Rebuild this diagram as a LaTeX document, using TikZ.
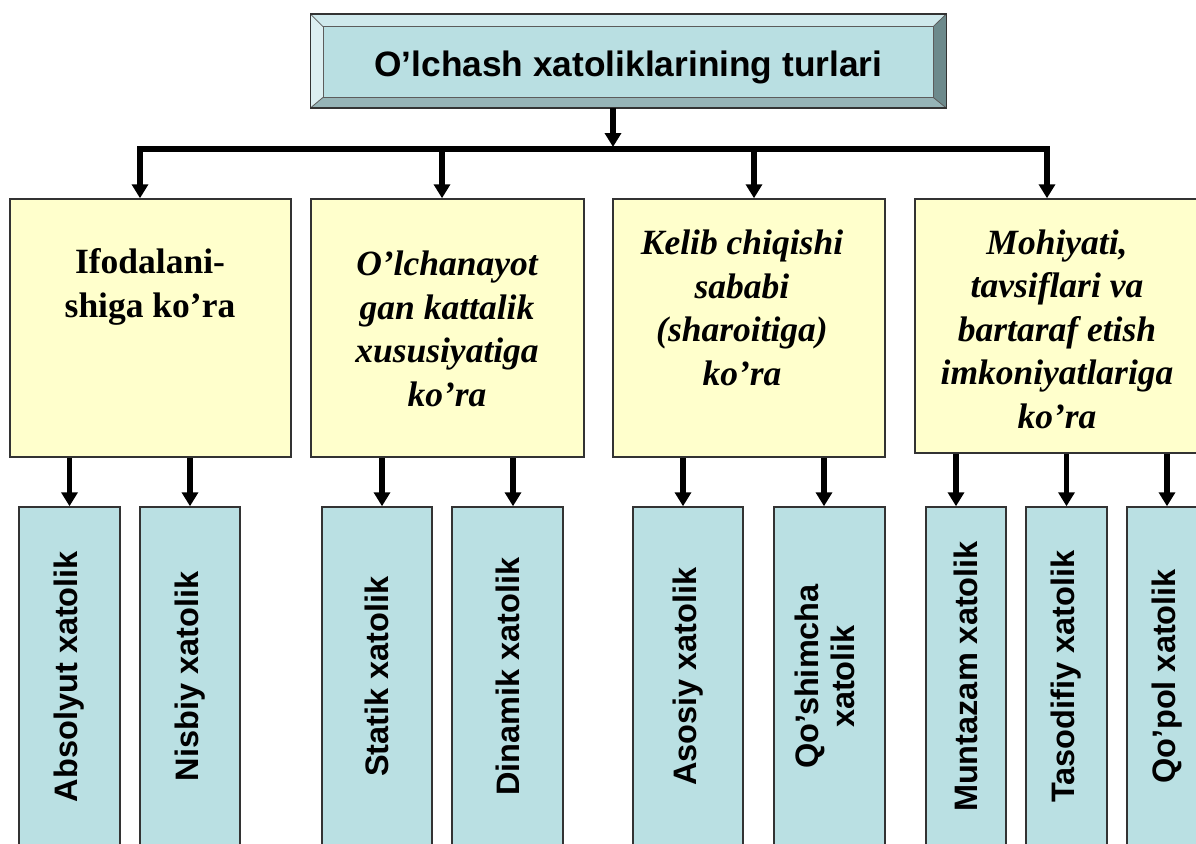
\documentclass[tikz,border=0pt]{standalone}
\usepackage{fontspec}
\usepackage{graphicx}
\setmainfont{Liberation Serif}
\setsansfont{Liberation Sans}
\usetikzlibrary{arrows.meta,calc}
\definecolor{edge}{HTML}{333333}
\definecolor{ylw}{HTML}{FFFFCC}
\definecolor{cyn}{HTML}{BAE0E3}
\definecolor{face}{HTML}{B9DFE2}
\definecolor{bvtop}{HTML}{CFE9EC}
\definecolor{bvleft}{HTML}{DCEFF1}
\definecolor{bvbot}{HTML}{96B4B7}
\definecolor{bvright}{HTML}{6D8A8C}
\newcommand{\tsize}{\fontsize{35.3}{40}\selectfont}
\newcommand{\ysize}{\fontsize{35.5}{43.5}\selectfont}
\newcommand{\bsize}{\fontsize{32.5}{36}\selectfont}
\newcommand{\vtext}[1]{\rotatebox{90}{#1}}

\begin{document}
\begin{tikzpicture}[
  x=1pt, y=-1pt,
  arr/.style={line width=5.5pt, -{Triangle[width=16pt,length=14pt]}},
  ybox/.style={draw=edge, line width=1.5pt, fill=ylw, inner sep=0pt},
  ytext/.style={font=\ysize\bfseries\itshape, align=center, text=black},
  bbox/.style={draw=edge, line width=1.5pt, fill=cyn, inner sep=0pt,
    minimum height=339, font=\bsize\sffamily\bfseries},
]
\useasboundingbox (0,0) rectangle (1196,843);

% title with bevel
\node[fill=face, minimum width=635.3, minimum height=93.4, inner sep=0pt,
  font=\tsize\sffamily\bfseries] (title) at (628.35,61)
  {\raisebox{-16pt}[0pt][0pt]{O’lchash xatoliklarining turlari}};
\fill[bvtop] (title.north west) -- (title.north east) -- ($(title.north east)+(-13,12.5)$)
  -- ($(title.north west)+(12.5,12.5)$) -- cycle;
\fill[bvleft] (title.north west) -- ($(title.north west)+(12.5,12.5)$)
  -- ($(title.south west)+(12.5,-10.5)$) -- (title.south west) -- cycle;
\fill[bvbot] (title.south west) -- ($(title.south west)+(12.5,-10.5)$)
  -- ($(title.south east)+(-13,-10.5)$) -- (title.south east) -- cycle;
\fill[bvright] (title.north east) -- ($(title.north east)+(-13,12.5)$)
  -- ($(title.south east)+(-13,-10.5)$) -- (title.south east) -- cycle;
\draw[edge!80, line width=0.8pt] ($(title.north west)+(12.5,12.5)$) rectangle ($(title.south east)+(-13,-10.5)$);
\draw[edge!80, line width=0.8pt] (title.north west) -- ++(12.5,12.5)
  (title.north east) -- ++(-13,12.5) (title.south west) -- ++(12.5,-10.5)
  (title.south east) -- ++(-13,-10.5);
\draw[edge, line width=1.2pt] (title.north west) rectangle (title.south east);

% yellow boxes
\node[ybox, minimum width=281, minimum height=258] (g1) at (150.5,328) {};
\node[ybox, minimum width=273, minimum height=258] (g2) at (447.5,328) {};
\node[ybox, minimum width=272, minimum height=258] (g3) at (749,328) {};
\node[ybox, minimum width=285, minimum height=254] (g4) at (1057.5,326) {};

\node[ytext, font=\ysize\bfseries] (l1) at (150,287) {Ifodalani-\\shiga ko’ra};
\node[ytext] (l2) at (447,329) {O’lchanayot\\gan kattalik\\xususiyatiga\\ko’ra};
\node[ytext] (l3) at (742,308) {Kelib chiqishi\\sababi\\(sharoitiga)\\ko’ra};
\node[ytext] (l4) at (1057,329) {Mohiyati,\\tavsiflari va\\bartaraf etish\\imkoniyatlariga\\ko’ra};

% bus
\coordinate (hub) at (613,147);
\coordinate (t1) at (140,149);
\coordinate (t2) at (442,149);
\coordinate (t3) at (754,149);
\coordinate (t4) at (1047,149);
\draw[arr] (title.south -| hub) -- (hub);
\draw[line width=5.5pt, line join=miter,
  {Triangle[width=16pt,length=14pt]}-{Triangle[width=16pt,length=14pt]}]
  (t1 |- g1.north) -- (t1) -- (t4) -- (t4 |- g4.north);
\draw[arr] (t2) -- (t2 |- g2.north);
\draw[arr] (t3) -- (t3 |- g3.north);

% blue boxes
\node[bbox, minimum width=101] (b1) at (69.5,676.5) {\vtext{Absolyut xatolik}};
\node[bbox, minimum width=100] (b2) at (190,676.5) {\vtext{Nisbiy xatolik}};
\node[bbox, minimum width=110] (b3) at (377,676.5) {\vtext{Statik xatolik}};
\node[bbox, minimum width=111] (b4) at (507.5,676.5) {\vtext{Dinamik xatolik}};
\node[bbox, minimum width=110] (b5) at (688,676.5) {\vtext{Asosiy xatolik}};
\node[bbox, minimum width=111] (b6) at (829.5,676.5) {\vtext{\begin{tabular}{@{}c@{}}Qo’shimcha\\xatolik\end{tabular}}};
\node[bbox, minimum width=80] (b7) at (966,676.5) {\vtext{Muntazam xatolik}};
\node[bbox, minimum width=81] (b8) at (1066.5,676.5) {\vtext{Tasodifiy xatolik}};
\node[bbox, minimum width=80] (b9) at (1167,676.5) {\vtext{Qo’pol xatolik}};

\foreach \g/\b/\d in {g1/b1/0, g1/b2/0, g2/b3/5, g2/b4/5.5, g3/b5/-5,
  g3/b6/-5.5, g4/b7/-10, g4/b8/0, g4/b9/0}
  \draw[arr] ([xshift=\d]\b.north |- \g.south) -- ([xshift=\d]\b.north);

\end{tikzpicture}
\end{document}
